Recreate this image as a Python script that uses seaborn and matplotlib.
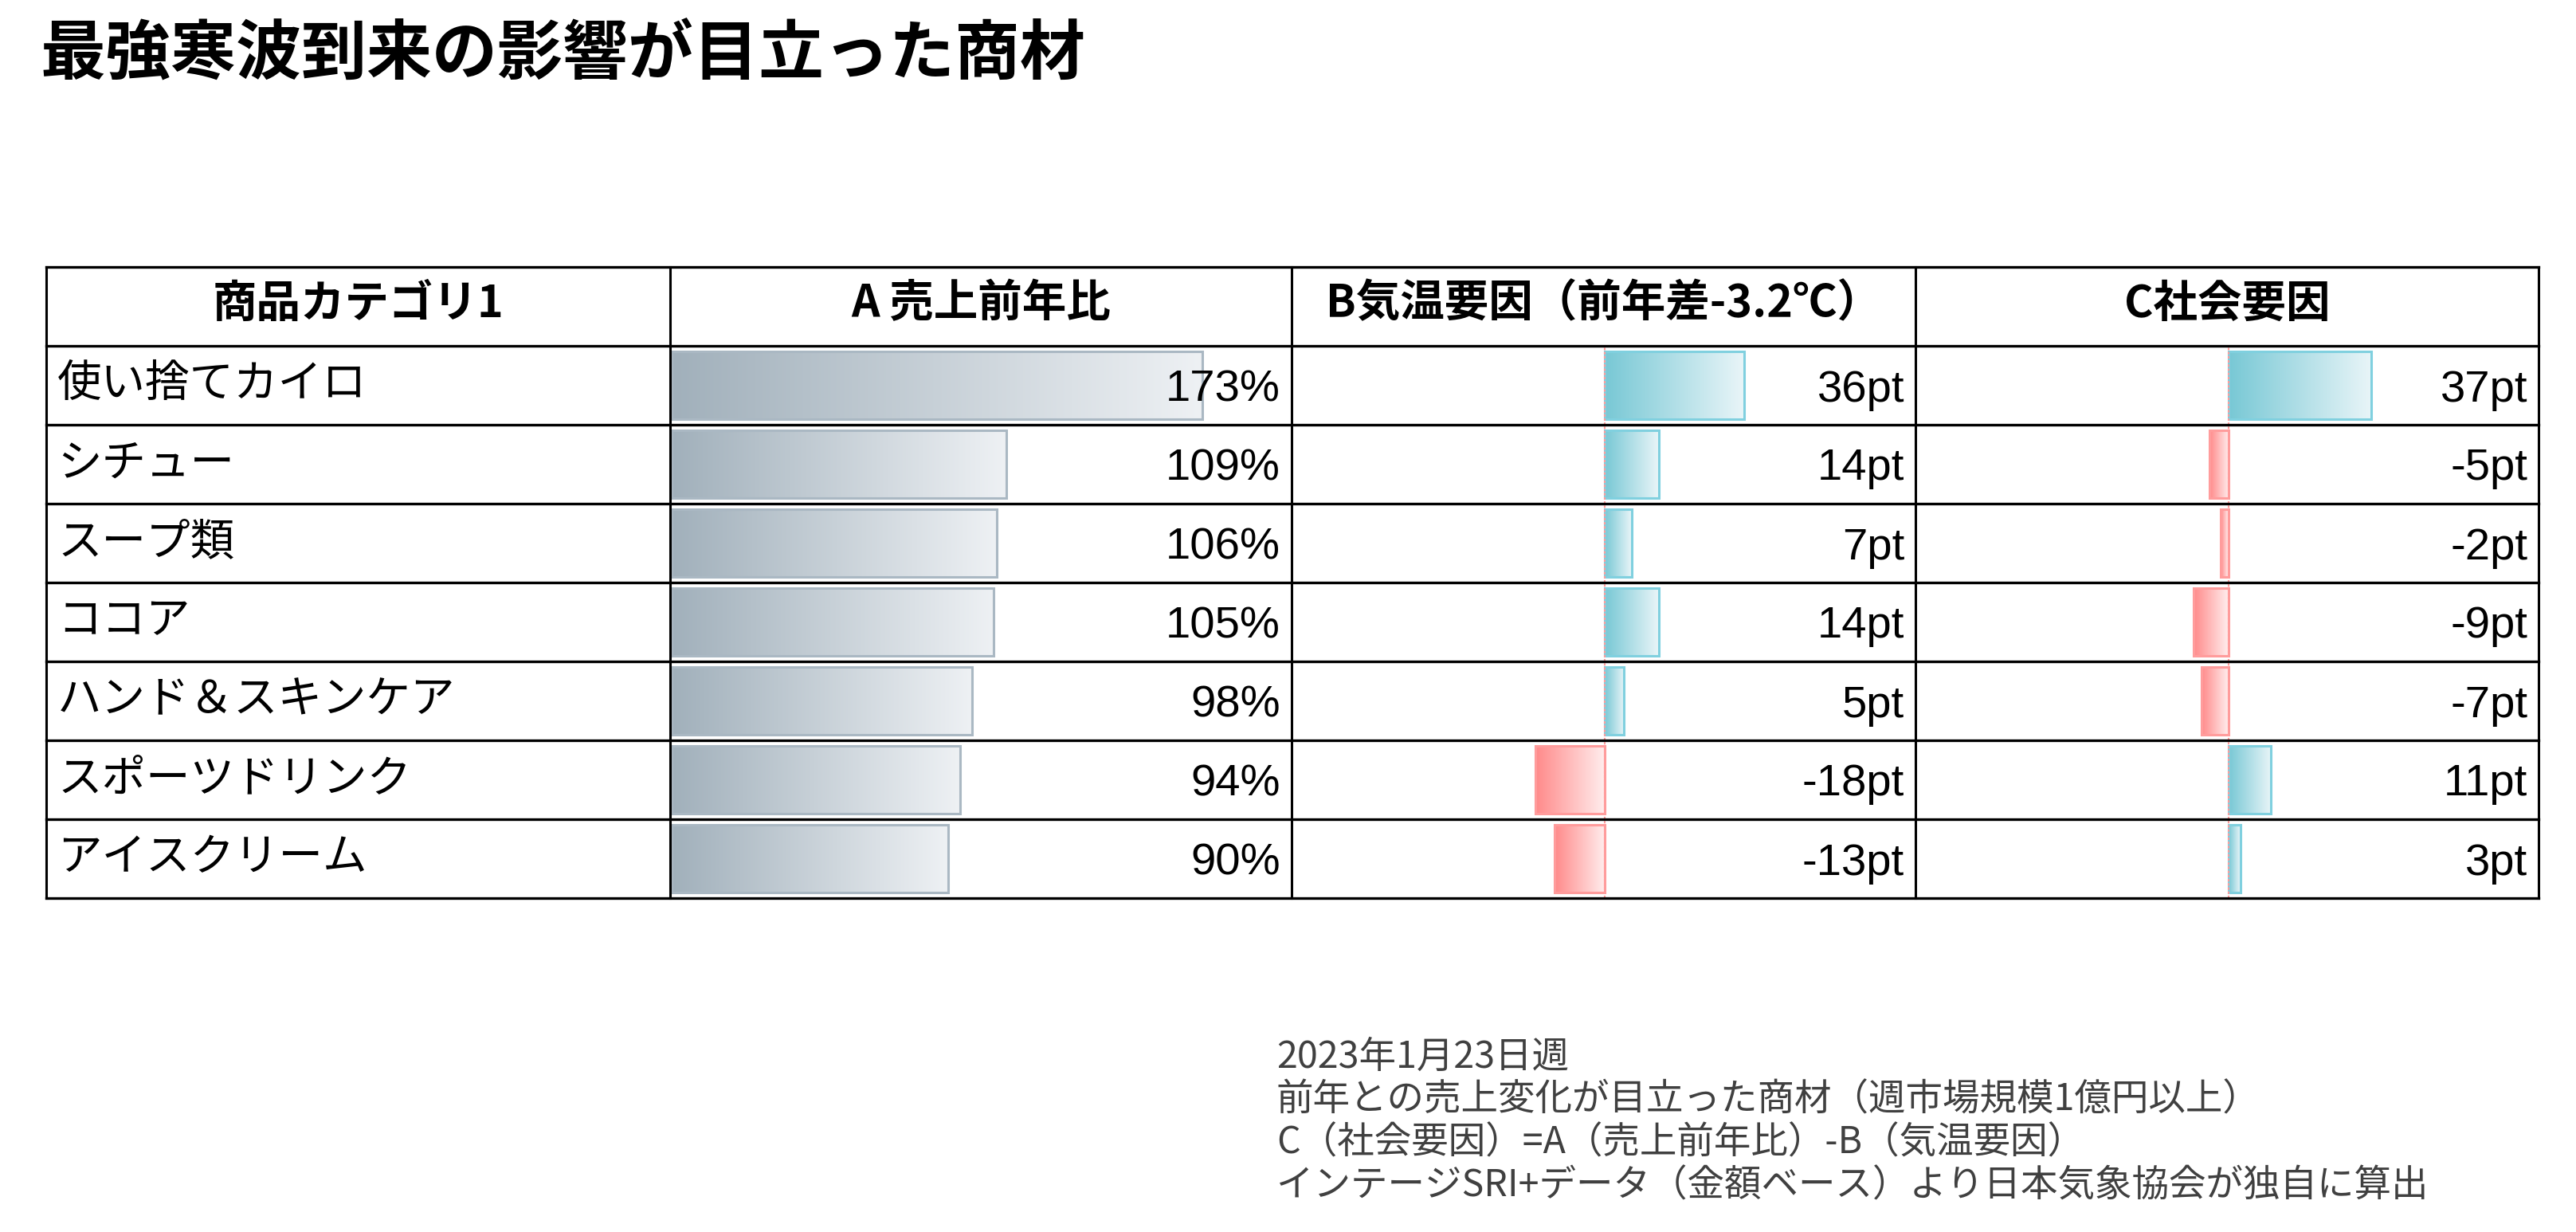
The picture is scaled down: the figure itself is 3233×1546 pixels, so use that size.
import numpy as np
import pandas as pd
import seaborn as sns
import matplotlib.pyplot as plt
from matplotlib.colors import LinearSegmentedColormap

# データ
categories = ['使い捨てカイロ', 'シチュー', 'スープ類', 'ココア',
              'ハンド＆スキンケア', 'スポーツドリンク', 'アイスクリーム']
sales_ratio = [173, 109, 106, 105, 98, 94, 90]      # A 売上前年比 (%)
temp_factor = [36, 14, 7, 14, 5, -18, -13]          # B 気温要因 (pt)
social_factor = [37, -5, -2, -9, -7, 11, 3]         # C 社会要因 (pt)
headers = ['商品カテゴリ1', 'A 売上前年比', 'B気温要因（前年差-3.2℃）', 'C社会要因']
title = '最強寒波到来の影響が目立った商材'
notes = ['2023年1月23日週',
         '前年との売上変化が目立った商材（週市場規模1億円以上）',
         'C（社会要因）=A（売上前年比）-B（気温要因）',
         'インテージSRI+データ（金額ベース）より日本気象協会が独自に算出']

df = pd.DataFrame({'cat': categories, 'A': sales_ratio,
                   'B': temp_factor, 'C': social_factor})

W, H = 3233, 1546
sns.set_theme(style='white')
plt.rcParams['font.family'] = ['Noto Sans CJK JP', 'DejaVu Sans']

fig = plt.figure(figsize=(W / 100, H / 100), dpi=100)

# 表の枠 (ピクセル座標)
col_x = [58, 841, 1621, 2404, 3186]
row_y = [335 + 99 * i for i in range(len(categories) + 2)]
top, bottom = row_y[1], row_y[-1]


def col_axes(x0, x1):
    ax = fig.add_axes([x0 / W, 1 - bottom / H, (x1 - x0) / W, (bottom - top) / H])
    ax.patch.set_alpha(0)
    return ax


def gradient(ax, p, cmap, edge, flip=False):
    # バーの中をグラデーションで塗る (0側が濃い)
    bb = p.get_bbox()
    t = np.linspace(0, 1, 256)
    if flip:
        t = t[::-1]
    im = ax.imshow(t.reshape(1, -1), cmap=cmap, vmin=0, vmax=1, aspect='auto',
                   extent=(bb.x0, bb.x1, bb.y0, bb.y1), interpolation='bilinear', zorder=1)
    im.set_clip_path(p)
    p.set_facecolor('none')
    p.set_edgecolor(edge)
    p.set_linewidth(2.2)
    p.set_zorder(2)


# A 売上前年比
axA = col_axes(843, col_x[2])
sns.barplot(data=df, x='A', y='cat', orient='h', color='#a3b2bd', width=0.86,
            errorbar=None, ax=axA)
cm_a = LinearSegmentedColormap.from_list('a', ['#a1b0bb', '#eef1f4'])
for p in list(axA.patches):
    gradient(axA, p, cm_a, '#aab8c3')
axA.set_xlim(0, (col_x[2] - 843) / 3.85)
axA.set_ylim(len(categories) - 0.5, -0.5)
axA.set_axis_off()

# B 気温要因 / C 社会要因
cm_pos = LinearSegmentedColormap.from_list('p', ['#78c8d5', '#e9f5f8'])
cm_neg = LinearSegmentedColormap.from_list('n', ['#ff8a8a', '#ffeeee'])
for key, x0, x1 in [('B', col_x[2], col_x[3]), ('C', col_x[3], col_x[4])]:
    ax = col_axes(x0, x1)
    zero = x0 + 393
    ppt = 4.85
    pos = df[key].where(df[key] >= 0)
    neg = df[key].where(df[key] < 0)
    sns.barplot(x=pos, y=df['cat'], orient='h', color='#7fcbd8', width=0.86,
                errorbar=None, ax=ax)
    n_pos = len(ax.patches)
    sns.barplot(x=neg, y=df['cat'], orient='h', color='#ff8c8c', width=0.86,
                errorbar=None, ax=ax)
    for i, p in enumerate(list(ax.patches)):
        bb = p.get_bbox()
        if bb.width == 0 or np.isnan(bb.x0):
            continue
        if i < n_pos:
            gradient(ax, p, cm_pos, '#80d0df')
        else:
            gradient(ax, p, cm_neg, '#ff9c9c', flip=True)
    ax.axvline(0, color='#ff9c9c', lw=1.5, ls=(0, (1.5, 1)), zorder=3)
    ax.set_xlim(-(zero - x0) / ppt, (x1 - zero) / ppt)
    ax.set_ylim(len(categories) - 0.5, -0.5)
    ax.set_axis_off()

# 罫線・文字用の全面レイヤー
bg = fig.add_axes([0, 0, 1, 1])
bg.set_xlim(0, W)
bg.set_ylim(H, 0)
bg.set_axis_off()
bg.set_zorder(5)

for y in row_y:
    bg.plot([col_x[0], col_x[-1]], [y, y], color='black', lw=2.4, solid_capstyle='projecting')
for x in col_x:
    bg.plot([x, x], [row_y[0], row_y[-1]], color='black', lw=2.2, solid_capstyle='projecting')

for j, h in enumerate(headers):
    bg.text((col_x[j] + col_x[j + 1]) / 2, (row_y[0] + row_y[1]) / 2 + 13, h,
            ha='center', va='baseline', fontsize=40, fontweight='bold', color='black')

for i, cat in enumerate(categories):
    cy = (row_y[i + 1] + row_y[i + 2]) / 2
    bg.text(72, cy + 15, cat, ha='left', va='baseline', fontsize=40, color='black')
    vals = [f'{sales_ratio[i]}%', f'{temp_factor[i]}pt', f'{social_factor[i]}pt']
    for j, v in enumerate(vals):
        bg.text(col_x[j + 2] - 14, cy + 20, v, ha='right', va='baseline', fontsize=40.5,
                color='black', family=['Liberation Sans', 'DejaVu Sans'])

bg.text(50, 94, title, ha='left', va='baseline', fontsize=59, fontweight='bold', color='black')

for k, line in enumerate(notes):
    bg.text(1602, 1340 + 54 * k, line, ha='left', va='baseline', fontsize=33.5, color='#404040')

fig.savefig('out.png', dpi=100)
